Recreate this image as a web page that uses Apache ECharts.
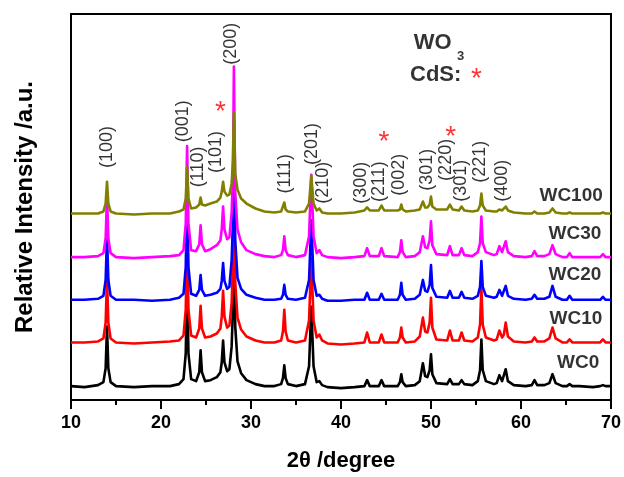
<!DOCTYPE html>
<html>
<head>
<meta charset="utf-8">
<script src="https://cdn.jsdelivr.net/npm/echarts@6/dist/echarts.min.js"></script>
<style>
html,body{margin:0;padding:0;background:#fff;}
#chart{width:624px;height:477px;}
</style>
</head>
<body>
<div id="chart"></div>
<script>
// 2theta grid (degrees)
const theta = [10, 11.5, 13, 13.6, 13.85, 14.0, 14.15, 14.4, 15, 17, 19, 21, 22.0,
 22.5, 22.75, 22.9, 23.05, 23.35,
 23.9, 24.25, 24.4, 24.55, 24.9,
 25.5, 26.2, 26.6, 26.75, 26.9, 27.05, 27.35, 27.6, 27.85, 28.0, 28.1, 28.25, 28.5, 28.9, 29.5, 30.5, 31.5, 32.6,
 33.35, 33.55, 33.7, 33.85, 34.1, 35.0,
 36.0, 36.45, 36.7, 36.95, 37.3, 37.6, 37.9, 38.5, 40.0, 41.5,
 42.6, 42.9, 43.2, 44.2, 44.5, 44.8, 46.3, 46.55, 46.7, 46.85, 47.2, 48.2,
 48.75, 49.1, 49.35, 49.6, 49.85, 50.0, 50.15, 50.6,
 51.8, 52.1, 52.4, 53.1, 53.4, 53.7, 54.6,
 55.2, 55.45, 55.6, 55.75, 56.1, 57.0,
 57.3, 57.6, 57.9, 58.1, 58.3, 58.55, 59.2,
 60.5, 61.2, 61.5, 61.8, 62.6, 63.15, 63.5, 63.85, 64.6, 65.1, 65.4, 65.7, 66.5, 68.0, 68.8, 69.1, 69.4, 70];

// relative intensities (a.u.) of each sample, above its own baseline
const wc0 = [0, -1, 1, 4, 18, 60, 18, 4, 0, -1, 0, 0, 2,
 7, 33, 110, 33, 7,
 5, 14, 36, 14, 5,
 6, 9, 14, 24, 46, 24, 15, 17, 40, 80, 180, 60, 25, 13, 6, 2, 0, 0,
 2, 8, 21, 8, 2, 0,
 2, 20, 80, 20, 4, 5, 1, -1, -2, -1,
 0, 6, 0, 0, 6, 0, 0, 4, 12, 4, 0, 1,
 5, 23, 10, 9, 16, 32, 12, 3,
 2, 7, 2, 2, 6, 2, 1,
 5, 16, 47, 16, 5, 2,
 3, 11, 5, 7, 17, 5, 1,
 0, 1, 6, 1, 1, 3, 12, 3, 0, 0, 2, 0, 0, -1, 0, 1, 0, 0];

const wc10 = [0, 0, 1, 4, 20, 65, 20, 4, 0, -1, 0, 1, 2,
 7, 33, 110, 33, 7,
 5, 14, 37, 14, 5,
 6, 9, 14, 26, 52, 26, 15, 17, 40, 80, 180, 60, 25, 13, 6, 2, 0, 0,
 2, 11, 33, 11, 2, 0,
 2, 22, 85, 22, 5, 8, 2, -1, -2, -1,
 0, 10, 0, 0, 8, 0, 0, 5, 15, 5, 0, 1,
 6, 25, 11, 10, 20, 45, 15, 3,
 2, 12, 2, 2, 10, 2, 1,
 5, 18, 55, 18, 5, 2,
 3, 12, 5, 8, 20, 6, 1,
 0, 1, 5, 1, 1, 4, 15, 4, 0, 0, 3, 0, 0, 0, 0, 3, 0, 0];

const wc20 = [0, 0, 1, 4, 20, 65, 20, 4, 0, 0, -1, 0, 2,
 6, 33, 110, 33, 6,
 4, 10, 25, 10, 4,
 5, 7, 11, 19, 37, 19, 11, 13, 40, 80, 180, 60, 22, 11, 5, 2, 0, 0,
 1, 5, 15, 5, 1, 0,
 2, 20, 80, 20, 4, 5, 1, -1, -1, 0,
 0, 7, 0, 0, 6, 0, 0, 5, 17, 5, 0, 1,
 5, 20, 9, 8, 15, 35, 12, 3,
 2, 9, 2, 2, 8, 2, 1,
 4, 13, 39, 13, 4, 2,
 3, 10, 4, 6, 14, 4, 1,
 0, 1, 5, 1, 1, 3, 14, 3, 0, 0, 4, 0, 0, 0, 0, 3, 0, 0];

const wc30 = [0, 0, 1, 4, 19, 62, 19, 4, 0, -1, 0, 1, 2,
 7, 34, 112, 34, 7,
 6, 13, 32, 13, 6,
 8, 12, 17, 28, 51, 28, 18, 20, 45, 85, 192, 65, 28, 15, 7, 3, 1, 0,
 2, 7, 21, 7, 2, 0,
 2, 21, 83, 21, 4, 7, 2, 0, -1, 0,
 1, 9, 1, 1, 9, 1, 0, 5, 17, 5, 0, 1,
 5, 21, 10, 9, 17, 36, 12, 3,
 2, 11, 2, 2, 9, 2, 1,
 5, 14, 41, 14, 5, 2,
 3, 11, 5, 6, 16, 5, 1,
 0, 1, 6, 1, 1, 3, 12, 3, 0, 0, 4, 0, 0, 0, 0, 3, 0, 0];

const wc100 = [0, 0, 0, 2, 10, 32, 10, 2, 0, -1, 0, 0, 2,
 4, 15, 47, 15, 5,
 6, 9, 16, 9, 8,
 10, 12, 16, 22, 32, 22, 18, 19, 30, 55, 102, 40, 24, 15, 10, 5, 2, 1,
 2, 4, 11, 4, 2, 1,
 2, 10, 38, 10, 3, 5, 1, 0, 0, 1,
 3, 6, 3, 3, 8, 3, 3, 4, 9, 4, 2, 3,
 4, 12, 6, 6, 9, 17, 7, 4,
 4, 9, 4, 3, 7, 3, 2,
 3, 8, 20, 8, 3, 2,
 2, 4, 3, 3, 7, 3, 1,
 0, 0, 2, 0, 0, 1, 5, 1, 0, 0, 1, 0, 0, 0, 0, 1, 0, 0];

const sampleNames = ['WC0', 'WC10', 'WC20', 'WC30', 'WC100'];
const sampleOffsets = [14, 58, 101, 144, 188];
const sampleColors = ['#000000', '#ff0000', '#0000ff', '#ff00ff', '#808000'];
const sampleLabelTheta = [66.35, 66.1, 66.0, 66.0, 65.57];
const sampleLabelY = [38, 82, 126, 168, 206];

// Miller-index annotations
const hklText = ['(100)', '(001)', '(110)', '(101)', '(200)', '(111)', '(201)', '(210)',
 '(300)', '(211)', '(002)', '(301)', '(220)', '(301)', '(221)', '(400)'];
const hklTheta = [13.95, 22.4, 24.06, 26.16, 27.82, 33.8, 36.79, 38.0,
 42.2, 44.2, 46.42, 49.52, 51.62, 53.29, 55.5, 57.94];
const hklY = [255, 281, 235, 250, 359, 228, 258, 219,
 219, 220, 227, 232, 242, 221, 240, 221];

// CdS markers
const starTheta = [26.6, 44.76, 52.18];
const starY = [290, 260, 265];

const seriesList = [wc0, wc10, wc20, wc30, wc100];
seriesList.forEach((s, i) => { if (s.length !== theta.length) throw new Error('len mismatch ' + i + ' ' + s.length + ' vs ' + theta.length); });

const FONT = 'Liberation Sans, Arial, sans-serif';
const chart = echarts.init(document.getElementById('chart'), null, {renderer: 'canvas'});

const series = [];
seriesList.forEach((s, i) => {
  series.push({
    name: sampleNames[i], type: 'line', showSymbol: false, silent: true,
    data: theta.map((t, k) => [t, s[k] + sampleOffsets[i]]),
    lineStyle: {color: sampleColors[i], width: 2.6, join: 'round'},
    itemStyle: {color: sampleColors[i]},
    z: 2 + i
  });
});

function textSeries(points, labelOpt, z) {
  return {
    type: 'scatter', silent: true, symbolSize: 1, z: z || 20,
    itemStyle: {color: 'rgba(0,0,0,0)'},
    data: points,
    label: Object.assign({show: true, position: 'inside', fontFamily: FONT, color: '#000',
      formatter: p => p.data[2]}, labelOpt)
  };
}

series.push(textSeries(hklText.map((t, i) => [hklTheta[i], hklY[i], t]), {rotate: 90, fontSize: 18}));
series.push(textSeries(starTheta.map((t, i) => [t, starY[i], '*']), {fontSize: 28, color: '#ff0000'}));
series.push(textSeries(sampleNames.map((n, i) => [sampleLabelTheta[i], sampleLabelY[i], n]), {fontSize: 19, fontWeight: 'bold'}));
series.push(textSeries([[50.19, 360, 'WO'], [50.52, 328, 'CdS:']], {fontSize: 22, fontWeight: 'bold'}));
series.push(textSeries([[53.29, 346, '3']], {fontSize: 13, fontWeight: 'bold'}));
series.push(textSeries([[55.06, 323, '*']], {fontSize: 28, color: '#ff0000'}));

chart.setOption({
  animation: false,
  backgroundColor: '#fff',
  grid: {left: 71, right: 11, top: 14, bottom: 74, show: true, borderColor: '#000', borderWidth: 2},
  xAxis: {
    type: 'value', min: 10, max: 70, interval: 10,
    name: '2\u03b8 /degree', nameLocation: 'middle', nameGap: 50,
    nameTextStyle: {fontFamily: FONT, fontSize: 22, fontWeight: 'bold', color: '#000'},
    axisLine: {show: true, lineStyle: {color: '#000', width: 2}},
    axisTick: {show: true, inside: false, length: 9, lineStyle: {color: '#000', width: 2}},
    minorTick: {show: true, splitNumber: 2, length: 5, lineStyle: {color: '#000', width: 2}},
    axisLabel: {fontFamily: FONT, fontSize: 18, fontWeight: 'bold', color: '#000', margin: 14},
    splitLine: {show: false}
  },
  yAxis: {
    type: 'value', min: 0, max: 389,
    name: 'Relative Intensity /a.u.', nameLocation: 'middle', nameGap: 34,
    nameTextStyle: {fontFamily: FONT, fontSize: 24, fontWeight: 'bold', color: '#000'},
    axisLine: {show: true, lineStyle: {color: '#000', width: 2}},
    axisTick: {show: false}, axisLabel: {show: false}, splitLine: {show: false}
  },
  series: series
});
</script>
</body>
</html>
